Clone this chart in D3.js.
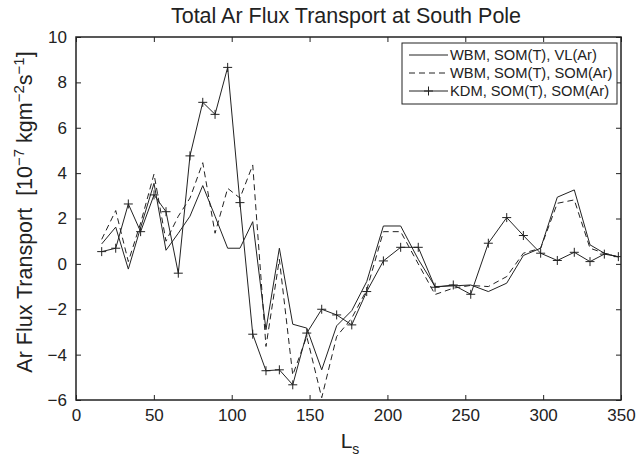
<!DOCTYPE html>
<html>
<head>
<meta charset="utf-8">
<script src="https://cdn.jsdelivr.net/npm/d3@7"></script>
<style>
  body { margin: 0; background: #fff; }
  svg text { font-family: "Liberation Sans", Arial, sans-serif; fill: #222; }
</style>
</head>
<body>
<div class="vis"></div>
<script>
(function() {
  'use strict';

  // areocentric longitude of each sample
  var ls = [16.5, 25.5, 33.6, 41.5, 50.1, 57.8, 65.7, 73.2, 81.4, 89.3, 97.4, 105.3,
    113.5, 122, 130.6, 139.2, 148.2, 157.8, 167.4, 177.1, 186.7, 197.4, 208.5, 219.8,
    230.6, 242.3, 253.5, 264.8, 276.6, 287.3, 298.4, 309.1, 320, 330.1, 339.3, 348.3];

  var wbmVL = [0.88, 1.62, -0.23, 1.6, 3.55, 0.6, 1.35, 2.1, 3.45, 2.1, 0.69, 0.69,
    1.86, -2.9, 0.69, -2.66, -2.83, -4.67, -2.73, -2.06, -0.78, 1.67, 1.67, 0.2,
    -1.0, -0.97, -0.93, -1.22, -0.85, 0.37, 0.69, 2.94, 3.26, 0.84, 0.47, 0.3];

  var wbmSOM = [1.08, 2.35, 0.1, 1.8, 3.96, 1.0, 2.1, 2.9, 4.46, 1.35, 3.33, 2.9,
    4.36, -3.64, 0.2, -4.9, -3.2, -5.9, -3.2, -2.39, -1.15, 1.42, 1.42, 0.0,
    -1.35, -1.07, -0.95, -1.0, -0.56, 0.47, 0.69, 2.67, 2.82, 0.69, 0.47, 0.3];

  var kdmSOM = [0.54, 0.69, 2.64, 1.42, 3.04, 2.3, -0.41, 4.76, 7.12, 6.59, 8.66, 2.7,
    -3.1, -4.71, -4.67, -5.33, -3.05, -2.0, -2.25, -2.69, -1.22, 0.13, 0.73, 0.73,
    -1.03, -0.93, -1.34, 0.91, 2.04, 1.25, 0.47, 0.15, 0.51, 0.1, 0.43, 0.32];

  var seriesNames = ['WBM, SOM(T), VL(Ar)', 'WBM, SOM(T), SOM(Ar)', 'KDM, SOM(T), SOM(Ar)'];
  var xTicks = [0, 50, 100, 150, 200, 250, 300, 350];
  var yTicks = [-6, -4, -2, 0, 2, 4, 6, 8, 10];

  var elWidth = 640, elHeight = 462,
    margin = {top: 37, right: 19, bottom: 62, left: 76},
    width = elWidth - margin.left - margin.right,
    height = elHeight - margin.top - margin.bottom;

  var svg = d3.select('.vis').append('svg')
      .attr('width', elWidth)
      .attr('height', elHeight);

  var g = svg.append('g')
      .attr('transform', 'translate(' + margin.left + ',' + margin.top + ')');

  var x = d3.scaleLinear().domain([0, 350]).range([0, width]);
  var y = d3.scaleLinear().domain([-6, 10]).range([height, 0]);

  g.append('clipPath').attr('id', 'plot-clip')
    .append('rect').attr('width', width).attr('height', height);

  // axes, ticks pointing inward like the other sides
  var tickLen = 5;
  var bottomAxis = g.append('g')
      .attr('transform', 'translate(0,' + height + ')')
      .call(d3.axisBottom(x).tickValues(xTicks).tickSizeInner(-tickLen).tickSizeOuter(0).tickPadding(9));
  var topAxis = g.append('g')
      .call(d3.axisTop(x).tickValues(xTicks).tickSizeInner(-tickLen).tickSizeOuter(0).tickFormat(''));
  var leftAxis = g.append('g')
      .call(d3.axisLeft(y).tickValues(yTicks).tickSizeInner(-tickLen).tickSizeOuter(0).tickPadding(9)
        .tickFormat(function(d) { return d < 0 ? '\u2212' + Math.abs(d) : d; }));
  var rightAxis = g.append('g')
      .attr('transform', 'translate(' + width + ',0)')
      .call(d3.axisRight(y).tickValues(yTicks).tickSizeInner(-tickLen).tickSizeOuter(0).tickFormat(''));

  [bottomAxis, topAxis, leftAxis, rightAxis].forEach(function(a) {
    a.select('.domain').remove();
    a.selectAll('line').attr('stroke', '#222').attr('stroke-width', 1);
    a.selectAll('text').style('font-size', '17px').attr('fill', '#222');
  });

  g.append('rect')
      .attr('width', width)
      .attr('height', height)
      .attr('fill', 'none')
      .attr('stroke', '#222')
      .attr('stroke-width', 1.5);

  var line = d3.line()
      .x(function(d) { return x(d[0]); })
      .y(function(d) { return y(d[1]); });

  var series = [
    {name: seriesNames[0], values: wbmVL, dash: null, marker: false},
    {name: seriesNames[1], values: wbmSOM, dash: '6,4', marker: false},
    {name: seriesNames[2], values: kdmSOM, dash: null, marker: true}
  ];

  var plot = g.append('g').attr('clip-path', 'url(#plot-clip)');

  series.forEach(function(s) {
    var pts = ls.map(function(v, i) { return [v, s.values[i]]; });
    plot.append('path')
        .datum(pts)
        .attr('d', line)
        .attr('fill', 'none')
        .attr('stroke', '#222')
        .attr('stroke-width', 1)
        .attr('stroke-dasharray', s.dash);

    if (s.marker) {
      plot.selectAll('.plus')
          .data(pts)
        .enter().append('path')
          .attr('class', 'plus')
          .attr('d', function(d) {
            var cx = x(d[0]), cy = y(d[1]), r = 4.5;
            return 'M' + (cx - r) + ',' + cy + 'H' + (cx + r) +
              'M' + cx + ',' + (cy - r) + 'V' + (cy + r);
          })
          .attr('stroke', '#222')
          .attr('stroke-width', 1);
    }
  });

  // legend box
  var legend = g.append('g').attr('transform', 'translate(' + (402 - margin.left) + ',' + (43 - margin.top) + ')');
  legend.append('rect')
      .attr('width', 215)
      .attr('height', 61)
      .attr('fill', '#fff')
      .attr('stroke', '#222')
      .attr('stroke-width', 1);

  series.forEach(function(s, i) {
    var ly = 12 + i * 18;
    legend.append('line')
        .attr('x1', 7).attr('x2', 46)
        .attr('y1', ly).attr('y2', ly)
        .attr('stroke', '#222')
        .attr('stroke-width', 1)
        .attr('stroke-dasharray', s.dash);
    if (s.marker) {
      legend.append('path')
          .attr('d', 'M' + 22 + ',' + ly + 'H' + 31 + 'M' + 26.5 + ',' + (ly - 4.5) + 'V' + (ly + 4.5))
          .attr('stroke', '#222');
    }
    legend.append('text')
        .attr('x', 48)
        .attr('y', ly)
        .attr('dy', '0.35em')
        .style('font-size', '14.7px')
        .text(s.name);
  });

  // title and axis labels
  svg.append('text')
      .attr('x', 346)
      .attr('y', 23)
      .attr('text-anchor', 'middle')
      .style('font-size', '21.5px')
      .text('Total Ar Flux Transport at South Pole');

  var xl = svg.append('text')
      .attr('x', 350)
      .attr('y', 448)
      .attr('text-anchor', 'middle')
      .style('font-size', '21px');
  xl.append('tspan').text('L');
  xl.append('tspan').attr('dy', 6).style('font-size', '14px').text('s');

  var yl = svg.append('text')
      .attr('transform', 'translate(32,212) rotate(-90)')
      .attr('text-anchor', 'middle')
      .style('font-size', '21.5px');
  yl.append('tspan').text('Ar Flux Transport \u00a0[10');
  yl.append('tspan').attr('dy', -8).style('font-size', '15px').text('\u22127');
  yl.append('tspan').attr('dy', 8).text(' kgm');
  yl.append('tspan').attr('dy', -8).style('font-size', '15px').text('\u22122');
  yl.append('tspan').attr('dy', 8).text('s');
  yl.append('tspan').attr('dy', -8).style('font-size', '15px').text('\u22121');
  yl.append('tspan').attr('dy', 8).text(']');

}());
</script>
</body>
</html>
